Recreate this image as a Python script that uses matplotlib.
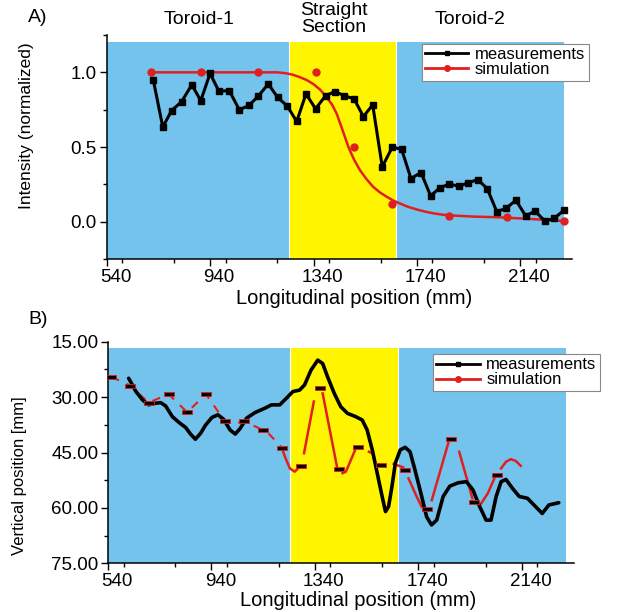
import matplotlib
matplotlib.use('Agg')
import matplotlib.pyplot as plt
import numpy as np
from matplotlib.lines import Line2D
from matplotlib.transforms import ScaledTranslation
from matplotlib.ticker import MultipleLocator, FormatStrFormatter

plt.rcParams['font.family'] = ['Liberation Sans', 'DejaVu Sans']

# ---------------- data ----------------
region_names = ['Toroid-1', 'Straight\nSection', 'Toroid-2']
region_edges = [540, 1245, 1660, 2310]
region_colors = ['#74C3EC', '#FFF500', '#74C3EC']

# Panel A
meas_a_x = [720, 757, 791, 830, 869, 904, 940, 974, 1014, 1053, 1090, 1126, 1165, 1201,
            1239, 1275, 1311, 1348, 1387, 1423, 1459, 1497, 1533, 1569, 1606, 1645, 1681,
            1717, 1756, 1793, 1829, 1865, 1903, 1939, 1975, 2012, 2049, 2085, 2123, 2161,
            2197, 2235, 2271, 2310]
meas_a_y = [0.951, 0.633, 0.744, 0.804, 0.916, 0.811, 0.993, 0.873, 0.878, 0.749, 0.778,
            0.84, 0.922, 0.833, 0.773, 0.671, 0.856, 0.756, 0.844, 0.871, 0.844, 0.822,
            0.704, 0.782, 0.367, 0.5, 0.484, 0.289, 0.329, 0.173, 0.227, 0.251, 0.238,
            0.26, 0.282, 0.222, 0.067, 0.089, 0.144, 0.038, 0.071, 0.004, 0.022, 0.078]
sim_a_x = [710, 904, 1126, 1348, 1497, 1645, 1865, 2087, 2310]
sim_a_y = [1.0, 1.0, 1.0, 1.0, 0.5, 0.116, 0.038, 0.033, 0.004]
fit_a_x = [708, 1200, 1236, 1262, 1288, 1314, 1339, 1365, 1391, 1412, 1430, 1452, 1475,
           1497, 1520, 1545, 1571, 1597, 1623, 1648, 1674, 1705, 1739, 1770, 1803, 1835,
           1868, 1960, 2061, 2200, 2310]
fit_a_y = [1.0, 1.0, 0.993, 0.983, 0.967, 0.948, 0.922, 0.885, 0.833, 0.783, 0.722, 0.615,
           0.5, 0.415, 0.344, 0.285, 0.233, 0.196, 0.167, 0.142, 0.122, 0.1, 0.082, 0.068,
           0.056, 0.048, 0.042, 0.034, 0.029, 0.016, 0.004]

# Panel B
meas_b_x = [620, 648, 674, 697, 719, 744, 763, 789, 815, 840, 859, 878, 898, 917, 942, 965,
            987, 1012, 1032, 1051, 1076, 1108, 1147, 1172, 1204, 1230, 1255, 1281, 1300,
            1325, 1351, 1370, 1389, 1415, 1440, 1466, 1498, 1523, 1542, 1562, 1581, 1600,
            1613, 1625, 1638, 1651, 1670, 1689, 1708, 1727, 1753, 1772, 1791, 1811, 1836,
            1862, 1894, 1926, 1951, 1977, 2002, 2021, 2041, 2060, 2079, 2104, 2130, 2162,
            2187, 2219, 2245, 2283]
meas_b_y = [24.9, 28.5, 30.8, 32.1, 31.7, 31.5, 32.4, 35.3, 36.9, 38.2, 40.0, 41.4, 39.8,
            37.6, 35.5, 34.8, 36.0, 38.9, 40.0, 38.5, 35.7, 34.2, 33.0, 32.1, 32.1, 30.3,
            28.5, 28.1, 26.7, 22.7, 20.0, 20.9, 24.5, 29.0, 32.6, 34.4, 35.3, 36.2, 38.9,
            44.3, 50.6, 56.9, 61.0, 59.6, 54.2, 47.9, 44.3, 43.6, 44.8, 49.7, 56.9, 62.4,
            64.6, 63.3, 56.9, 54.1, 53.2, 52.9, 55.1, 59.6, 63.3, 63.3, 56.9, 52.9, 52.3,
            54.7, 56.9, 57.4, 59.2, 61.5, 59.2, 58.6]
sim_b_x = [553, 626, 697, 774, 846, 919, 991, 1066, 1138, 1213, 1285, 1358, 1432, 1508,
           1597, 1687, 1775, 1868, 1955, 2044]
sim_b_y = [24.5, 26.9, 31.5, 29.2, 34.1, 29.2, 36.5, 36.5, 38.9, 43.9, 48.7, 27.5, 49.6,
           43.4, 48.3, 49.7, 60.4, 41.4, 58.3, 51.1]
sim_b_dash_x = [553, 626, 697, 774, 846, 919, 991, 1026, 1066, 1138, 1160, 1204, 1213]
sim_b_dash_y = [24.5, 26.9, 31.5, 29.2, 34.1, 29.2, 36.5, 37.3, 36.5, 38.9, 39.8, 43.0, 43.9]
nan = float('nan')
sim_b_line_x = [1213, 1224, 1243, 1262, 1275, 1285, nan, 1298, 1336, nan, 1370, 1425, nan,
                1447, 1460, 1498, nan, 1549, 1562, nan, 1645, 1681, nan, 1702, 1734, 1753,
                nan, 1792, 1856, nan, 1898, 1949, nan, 1983, 2009, 2034, nan, 2060, 2079,
                2098, 2117, 2136]
sim_b_line_y = [43.9, 46.1, 49.3, 50.2, 49.3, 48.7, nan, 45.2, 31.2, nan, 29.0, 48.7, nan,
                50.6, 50.2, 43.9, nan, 44.8, 45.2, nan, 48.1, 49.0, nan, 52.0, 57.0, 59.7,
                nan, 57.9, 42.4, nan, 44.8, 57.4, nan, 58.8, 56.0, 52.0, nan, 49.3, 47.5,
                46.8, 47.3, 48.6]

xticks = [540, 940, 1340, 1740, 2140]
legend_labels = ['measurements', 'simulation']

# ---------------- figure ----------------
W, H = 630, 612
fig = plt.figure(figsize=(W / 100, H / 100), dpi=100)


def px_axes(l, t, r, b):
    return fig.add_axes([l / W, 1 - b / H, (r - l) / W, (b - t) / H])


axA = px_axes(106.7, 35, 572, 259)
axB = px_axes(108, 341.7, 573.5, 563.3)

RED = '#E02020'
tick_fs = 13.5


def style_axis(ax):
    for s in ['top', 'right']:
        ax.spines[s].set_visible(False)
    for s in ['left', 'bottom']:
        ax.spines[s].set_linewidth(1.1)
    ax.set_xlim(540, 2340)
    ax.xaxis.set_major_locator(MultipleLocator(400))
    ax.xaxis.set_minor_locator(MultipleLocator(200))
    ax.set_xticks(xticks)
    ax.tick_params(axis='both', which='major', direction='out', length=5, width=1,
                   labelsize=tick_fs, pad=2)
    ax.tick_params(axis='both', which='minor', direction='out', length=3, width=1)
    off = ScaledTranslation(9 / 100, 0, fig.dpi_scale_trans)
    for lab in ax.get_xticklabels():
        lab.set_transform(lab.get_transform() + off)


# ---- Panel A ----
for i in range(3):
    axA.fill_between([region_edges[i], region_edges[i + 1]], -0.25, 1.2,
                     color=region_colors[i], lw=0, zorder=0)
axA.axvline(region_edges[1], ymin=0, ymax=1.45 / 1.5, color='white', lw=0.8, zorder=0.5)
axA.axvline(region_edges[2], ymin=0, ymax=1.45 / 1.5, color='white', lw=0.8, zorder=0.5)
axA.plot(fit_a_x, fit_a_y, color=RED, lw=1.8, zorder=2)
axA.plot(sim_a_x, sim_a_y, 'o', color=RED, ms=5, mec=RED, zorder=3)
axA.plot(meas_a_x, meas_a_y, '-s', color='black', lw=2.2, ms=4.8, zorder=4)
axA.set_ylim(-0.25, 1.25)
axA.yaxis.set_major_locator(MultipleLocator(0.5))
axA.yaxis.set_minor_locator(MultipleLocator(0.25))
axA.yaxis.set_major_formatter(FormatStrFormatter('%.1f'))
style_axis(axA)
axA.set_xlabel('Longitudinal position (mm)', fontsize=14.5, labelpad=4)
axA.xaxis.set_label_coords(0.531, -0.135)

# ---- Panel B ----
for i in range(3):
    axB.fill_between([region_edges[i], region_edges[i + 1]], 16.6, 75,
                     color=region_colors[i], lw=0, zorder=0)
axB.axvline(region_edges[1], ymin=0, ymax=(75 - 16.6) / 60, color='white', lw=0.8, zorder=0.5)
axB.axvline(region_edges[2], ymin=0, ymax=(75 - 16.6) / 60, color='white', lw=0.8, zorder=0.5)
axB.plot(sim_b_dash_x, sim_b_dash_y, color=RED, lw=1.5, ls=(0, (4, 4)), zorder=2)
axB.plot(sim_b_line_x, sim_b_line_y, color=RED, lw=1.8, zorder=2)
axB.plot(meas_b_x, meas_b_y, color='black', lw=2.6, zorder=3,
         solid_capstyle='round', solid_joinstyle='round')
rect = [(-1, -0.45), (1, -0.45), (1, 0.45), (-1, 0.45), (-1, -0.45)]
axB.plot(sim_b_x, sim_b_y, ls='none', marker=rect, ms=7, mfc='black', mec=RED,
         mew=0.6, zorder=4)
axB.set_ylim(75, 15)
axB.yaxis.set_major_locator(MultipleLocator(15))
axB.yaxis.set_minor_locator(MultipleLocator(7.5))
axB.yaxis.set_major_formatter(FormatStrFormatter('%.2f'))
style_axis(axB)
axB.set_xlabel('Longitudinal position (mm)', fontsize=14.5, labelpad=4)
axB.xaxis.set_label_coords(0.537, -0.125)

# ---- legends ----
handles = [Line2D([], [], color='black', lw=2, marker='s', ms=3.5),
           Line2D([], [], color=RED, lw=2, marker='o', ms=4)]
for (lx, ly) in [(421.7, 44), (433, 354)]:
    leg = fig.legend(handles, legend_labels, loc='upper left',
                     bbox_to_anchor=(lx / W, 1 - ly / H), fontsize=12,
                     frameon=True, fancybox=False, framealpha=1, edgecolor='#888888',
                     borderpad=0.2, labelspacing=0.0, handlelength=2.6,
                     handletextpad=0.4, borderaxespad=0)
    leg.get_frame().set_linewidth(0.8)

# ---- labels ----
fig.text(27 / W, 1 - 126 / H, 'Intensity (normalized)', rotation=90, ha='center',
         va='center', fontsize=12.5)
fig.text(20 / W, 1 - 476 / H, 'Vertical position [mm]', rotation=90, ha='center',
         va='center', fontsize=12)
fig.text(38 / W, 1 - 17 / H, 'A)', ha='center', va='center', fontsize=14)
fig.text(38 / W, 1 - 320 / H, 'B)', ha='center', va='center', fontsize=14)
for name, cx in zip(region_names, [199, 334, 470]):
    fig.text(cx / W, 1 - 19 / H, name, ha='center', va='center', fontsize=14,
             linespacing=1.0)

fig.savefig('out.png', dpi=100)
